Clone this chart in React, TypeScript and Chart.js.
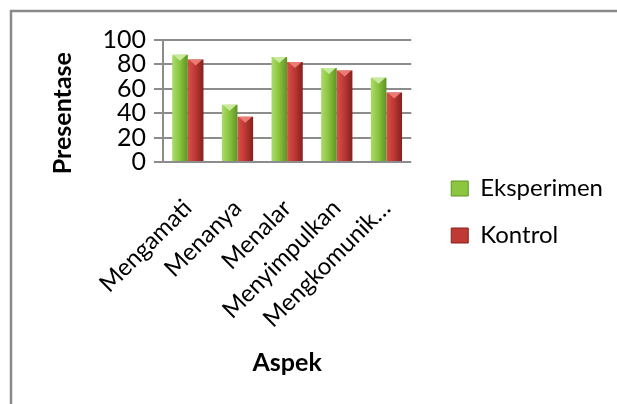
import React, { useEffect, useRef } from "react";
import { Chart, registerables } from "chart.js";

Chart.register(...registerables);

const categories = ["Mengamati", "Menanya", "Menalar", "Menyimpulkan", "Mengkomunik…"];
const eksperimen = [88, 47, 86, 77, 69];
const kontrol = [84, 37, 82, 75, 57];
const seriesNames = ["Eksperimen", "Kontrol"];
const yTicks = [0, 20, 40, 60, 80, 100];

const CAT_PCT = 0.63;
const FONT = "Lato, 'Liberation Sans', sans-serif";

const palettes = [
  { l: "#abdc6e", m: "#8cc63f", r: "#5e9424", tri: "#c9ea9c", solid: "#8cc63f" },
  { l: "#d9504a", m: "#bf3a35", r: "#85201d", tri: "#ec7a74", solid: "#bf3a35" },
];

function barFill(ctx: any) {
  const chart = ctx.chart;
  const xs = chart.scales && chart.scales.x;
  const pal = palettes[ctx.datasetIndex] || palettes[0];
  if (!xs || !chart.chartArea || ctx.dataIndex === undefined) return pal.solid;
  const center = xs.getPixelForValue(ctx.dataIndex);
  const bw = (xs.width / categories.length) * CAT_PCT / 2;
  const left = ctx.datasetIndex === 0 ? center - bw : center;
  const g = chart.ctx.createLinearGradient(left, 0, left + bw, 0);
  g.addColorStop(0, pal.l);
  g.addColorStop(0.45, pal.m);
  g.addColorStop(1, pal.r);
  return g;
}

const framePlugin = {
  id: "frame",
  beforeDraw(chart: any) {
    const c = chart.ctx;
    c.save();
    c.fillStyle = "#ffffff";
    c.fillRect(0, 0, chart.width, chart.height);
    c.strokeStyle = "#8a8a8a";
    c.lineWidth = 2.5;
    c.beginPath();
    c.moveTo(11, chart.height);
    c.lineTo(11, 11);
    c.lineTo(chart.width, 11);
    c.stroke();
    c.restore();
  },
};

const bevelPlugin = {
  id: "bevel",
  afterDatasetsDraw(chart: any) {
    const c = chart.ctx;
    chart.data.datasets.forEach((_ds: any, di: number) => {
      const meta = chart.getDatasetMeta(di);
      const pal = palettes[di];
      meta.data.forEach((bar: any) => {
        const { x, y, width } = bar.getProps(["x", "y", "width"], true);
        const l = x - width / 2;
        const r = x + width / 2;
        c.save();
        c.fillStyle = pal.tri;
        c.beginPath();
        c.moveTo(l + 1, y);
        c.lineTo(r - 1, y);
        c.lineTo(x, y + 6);
        c.closePath();
        c.fill();
        c.restore();
      });
    });
  },
};

export default function App() {
  const ref = useRef<HTMLCanvasElement | null>(null);

  useEffect(() => {
    if (!ref.current) return;
    const chart = new Chart(ref.current, {
      type: "bar",
      data: {
        labels: categories,
        datasets: [
          {
            label: seriesNames[0],
            data: eksperimen,
            backgroundColor: barFill,
            borderWidth: 0,
            categoryPercentage: CAT_PCT,
            barPercentage: 1,
          },
          {
            label: seriesNames[1],
            data: kontrol,
            backgroundColor: barFill,
            borderWidth: 0,
            categoryPercentage: CAT_PCT,
            barPercentage: 1,
          },
        ],
      },
      options: {
        animation: false,
        responsive: false,
        maintainAspectRatio: false,
        layout: { padding: { left: 12, top: 40, bottom: 20, right: 4 } },
        plugins: {
          legend: {
            display: true,
            position: "right",
            maxWidth: 400,
            labels: {
              color: "#000",
              font: { family: FONT, size: 24 },
              boxWidth: 17,
              boxHeight: 15,
              padding: 23,
              generateLabels: (ch: any) =>
                ch.data.datasets.map((ds: any, i: number) => ({
                  text: ds.label,
                  fillStyle: palettes[i].m,
                  strokeStyle: palettes[i].r,
                  lineWidth: 1,
                  datasetIndex: i,
                  hidden: false,
                })),
            },
          },
          tooltip: { enabled: false },
        },
        scales: {
          x: {
            offset: true,
            grid: { display: false },
            border: { display: false },
            ticks: {
              color: "#000",
              font: { family: FONT, size: 24 },
              maxRotation: 45,
              minRotation: 45,
              autoSkip: false,
              padding: 24,
            },
            title: {
              display: true,
              text: "Aspek",
              color: "#000",
              font: { family: FONT, size: 25, weight: "bold" },
              padding: { top: 0, bottom: 6 },
            },
            afterFit: (s: any) => {
              s.height = 222;
            },
          },
          y: {
            min: 0,
            max: 100,
            afterBuildTicks: (s: any) => {
              s.ticks = yTicks.map((v) => ({ value: v }));
            },
            grid: { color: "#8c8c8c", lineWidth: 2, tickLength: 9, drawTicks: true },
            border: { display: true, color: "#8c8c8c", width: 2 },
            ticks: {
              color: "#000",
              font: { family: FONT, size: 25 },
              padding: 8,
              autoSkip: false,
            },
            title: {
              display: true,
              text: "Presentase    ",
              color: "#000",
              font: { family: FONT, size: 25, weight: "bold" },
              padding: { top: 36, bottom: 0 },
            },
            afterFit: (s: any) => {
              s.width = 151;
            },
          },
          gap: {
            type: "linear",
            position: "right",
            display: true,
            grid: { display: false },
            border: { display: false },
            ticks: { display: false },
            afterFit: (s: any) => {
              s.width = 17;
            },
          },
        },
      },
      plugins: [framePlugin, bevelPlugin],
    } as any);
    return () => chart.destroy();
  }, []);

  return (
    <div style={{ position: "absolute", left: 0, top: 0, width: 617, height: 404 }}>
      <canvas ref={ref} width={617} height={404} style={{ display: "block" }} />
    </div>
  );
}
